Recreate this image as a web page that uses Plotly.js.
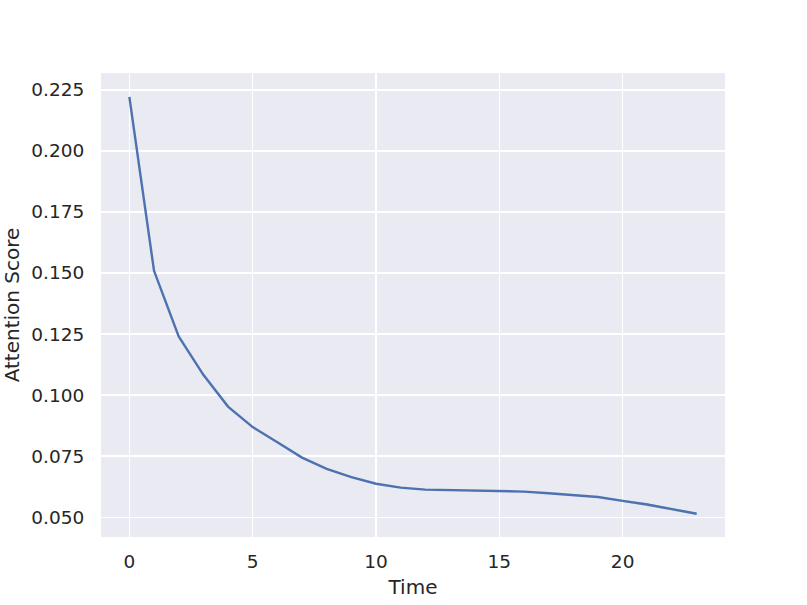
<!DOCTYPE html>
<html>
<head>
<meta charset="utf-8">
<script src="https://cdn.plot.ly/plotly-3.0.1.min.js"></script>
<style>
  html, body { margin: 0; padding: 0; background: #fff; }
  #chart { width: 807px; height: 605px; }
</style>
</head>
<body>
<div id="chart"></div>
<script>
// Mean attention score per time step
const time = [0, 1, 2, 3, 4, 5, 6, 7, 8, 9, 10, 11, 12, 13, 14, 15, 16, 17, 18, 19, 20, 21, 22, 23];
const attention = [0.2221, 0.1509, 0.1240, 0.1083, 0.0953, 0.0869, 0.0807, 0.0744, 0.0698, 0.0664,
  0.0637, 0.0621, 0.0613, 0.0611, 0.0609, 0.0608, 0.0605, 0.0598, 0.0591, 0.0583,
  0.0567, 0.0552, 0.0533, 0.0514];

// Confidence band (only visibly wide near the end)
const bandTime = [19, 20, 21, 22, 23];
const bandLow = [0.0581, 0.0563, 0.0547, 0.0528, 0.0509];
const bandHigh = [0.0585, 0.0571, 0.0557, 0.0538, 0.0519];

const lineColor = "#4C72B0";
const textColor = "#262626";

const lowerTrace = {
  x: bandTime,
  y: bandLow,
  type: "scatter",
  mode: "lines",
  line: { width: 0, color: lineColor },
  hoverinfo: "skip",
  showlegend: false,
};

const upperTrace = {
  x: bandTime,
  y: bandHigh,
  type: "scatter",
  mode: "lines",
  fill: "tonexty",
  fillcolor: "rgba(76,114,176,0.2)",
  line: { width: 0, color: lineColor },
  hoverinfo: "skip",
  showlegend: false,
};

const meanTrace = {
  x: time,
  y: attention,
  type: "scatter",
  mode: "lines",
  line: { color: lineColor, width: 2.4 },
  showlegend: false,
};

const axisStyle = {
  showgrid: true,
  gridcolor: "#ffffff",
  gridwidth: 1.4,
  zeroline: false,
  showline: false,
  ticks: "outside",
  tickcolor: "rgba(0,0,0,0)",
  tickfont: { size: 18.5, color: textColor },
};

const layout = {
  width: 807,
  height: 605,
  paper_bgcolor: "#ffffff",
  plot_bgcolor: "#EAEAF2",
  font: { family: "DejaVu Sans, sans-serif", color: textColor },
  margin: { l: 101, r: 82, t: 73, b: 68 },
  xaxis: Object.assign({}, axisStyle, {
    range: [-1.15, 24.15],
    tickvals: [0, 5, 10, 15, 20],
    ticklen: 8,
    title: { text: "Time", font: { size: 20, color: textColor }, standoff: 8 },
  }),
  yaxis: Object.assign({}, axisStyle, {
    range: [0.0419, 0.2319],
    tickvals: [0.05, 0.075, 0.1, 0.125, 0.15, 0.175, 0.2, 0.225],
    tickformat: ".3f",
    ticklen: 12,
    title: { text: "Attention Score", font: { size: 20, color: textColor }, standoff: 7 },
  }),
};

Plotly.newPlot("chart", [lowerTrace, upperTrace, meanTrace], layout, { staticPlot: true, displayModeBar: false });
</script>
</body>
</html>
